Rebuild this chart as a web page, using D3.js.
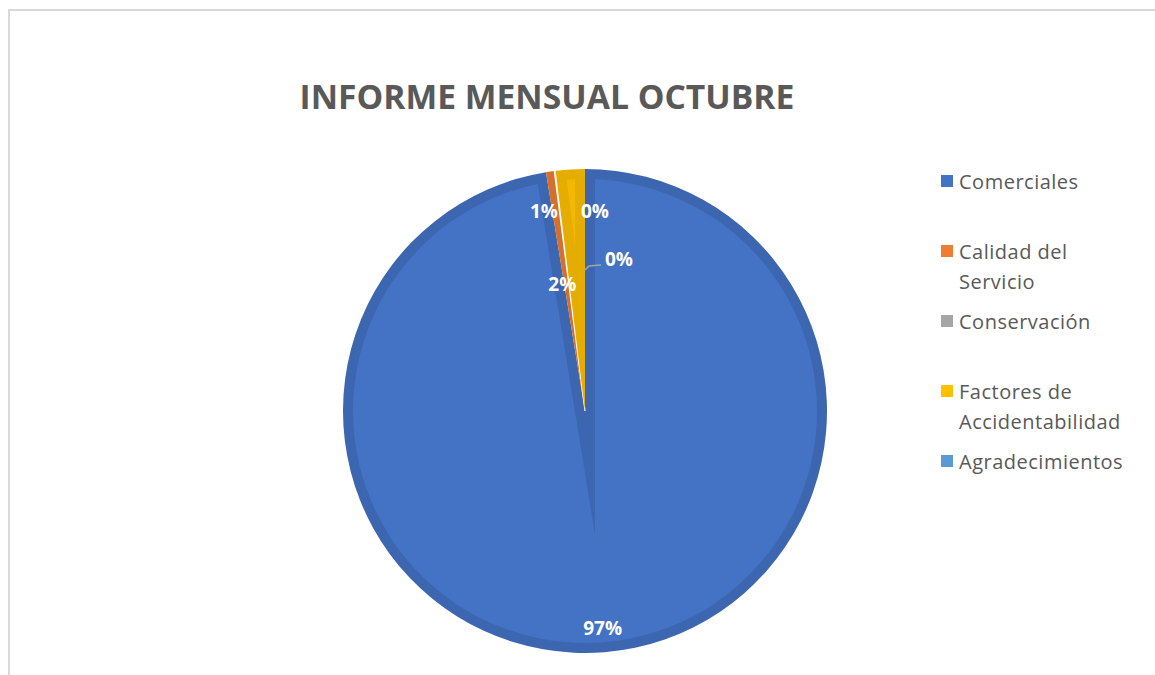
<!DOCTYPE html>
<html><head><meta charset="utf-8">
<script src="https://cdn.jsdelivr.net/npm/d3@7"></script>
<style>html,body{margin:0;padding:0;background:#fff;}svg{display:block;}</style>
</head><body>
<script>
const categories = ["Comerciales","Calidad del Servicio","Conservación","Factores de Accidentabilidad","Agradecimientos"];
const values = [1058, 6, 1, 21, 0];
const colors = ["#4472C4","#ED7D31","#A5A5A5","#FFC000","#5B9BD5"];
const legendLines = [["Comerciales"],["Calidad del","Servicio"],["Conservación"],["Factores de","Accidentabilidad"],["Agradecimientos"]];
const title = "INFORME MENSUAL OCTUBRE";

const W = 1155, H = 675;
const svg = d3.select("body").append("svg").attr("width", W).attr("height", H);
svg.append("rect").attr("x", 9).attr("y", 10).attr("width", 1300).attr("height", 800)
  .attr("fill", "none").attr("stroke", "#D9D9D9").attr("stroke-width", 2);

const font = "'Open Sans', 'Noto Sans', sans-serif";
const t = svg.append("text").attr("x", 547).attr("y", 109).attr("text-anchor", "middle")
  .attr("font-family", font).attr("font-weight", 700).attr("font-size", 32)
  .attr("fill", "#595959").text(title);
const tw = t.node().getComputedTextLength();
t.attr("font-size", 32 * 495 / tw);

const cx = 585, cy = 411, r = 242, bevel = 10;
const total = d3.sum(values);
const pct = d3.format(".0%");
const pie = d3.pie().sort(null).value(d => d);
const arcs = pie(values);
const arcGen = d3.arc().innerRadius(0).outerRadius(r);
const g = svg.append("g").attr("transform", `translate(${cx},${cy})`);
const defs = svg.append("defs");
defs.append("clipPath").attr("id", "innerDisk").append("circle").attr("r", r - bevel);
const u = a => [Math.sin(a), -Math.cos(a)];

arcs.forEach((a, i) => {
  if (a.data <= 0) return;
  const base = d3.rgb(colors[i]);
  g.append("path").attr("d", arcGen(a)).attr("fill", base.darker(0.3))
    .attr("stroke", i === 2 ? "#fff" : "none").attr("stroke-width", 1.2);
  const h = (a.endAngle - a.startAngle) / 2, m = a.startAngle + h;
  const d = bevel / Math.sin(h);
  if (d >= r - bevel) return;
  const P = u(m).map(v => v * d);
  const L = 2000, pts = [P];
  const steps = 60;
  for (let k = 0; k <= steps; k++) {
    const ang = a.startAngle + (a.endAngle - a.startAngle) * k / steps;
    const q = u(ang);
    pts.push([P[0] + L * q[0], P[1] + L * q[1]]);
  }
  g.append("path").attr("d", "M" + pts.map(p => p.join(",")).join("L") + "Z")
    .attr("fill", i === 0 ? base : base.darker(0.12)).attr("clip-path", "url(#innerDisk)");
});

// data labels
const labelPlace = [{rf: 0.90, dx: 0}, {rf: 0.835, dx: -12}, {rf: 0.835, dx: 35}, {rf: 0.525, dx: -15}, {rf: 0.628, dx: 34, leader: true}];
arcs.forEach((a, i) => {
  const p = labelPlace[i];
  const mid = (a.startAngle + a.endAngle) / 2;
  const q = u(mid);
  const x = q[0] * r * p.rf + p.dx, y = q[1] * r * p.rf;
  if (p.leader) {
    const s = u(mid).map(v => v * 141);
    g.append("path").attr("d", `M${s[0]},${s[1]}L${s[0] + 4},${s[1] - 4}L${x - 18},${s[1] - 5}`)
      .attr("fill", "none").attr("stroke", "#A5A5A5").attr("stroke-width", 1.5);
  }
  g.append("text").attr("x", x).attr("y", y).attr("text-anchor", "middle")
    .attr("dominant-baseline", "central").attr("font-family", font).attr("font-weight", 700)
    .attr("font-size", 19).attr("fill", "#fff").text(pct(values[i] / total));
});

// legend
const lg = svg.append("g");
legendLines.forEach((lines, i) => {
  const y0 = 181 + i * 70;
  lg.append("rect").attr("x", 941).attr("y", y0 - 6).attr("width", 12).attr("height", 12).attr("fill", colors[i]);
  lines.forEach((ln, j) => {
    lg.append("text").attr("x", 959).attr("y", y0 + j * 30).attr("dominant-baseline", "central")
      .attr("font-family", font).attr("font-size", 20).attr("letter-spacing", 0.5)
      .attr("fill", "#595959").text(ln);
  });
});
</script>
</body></html>
